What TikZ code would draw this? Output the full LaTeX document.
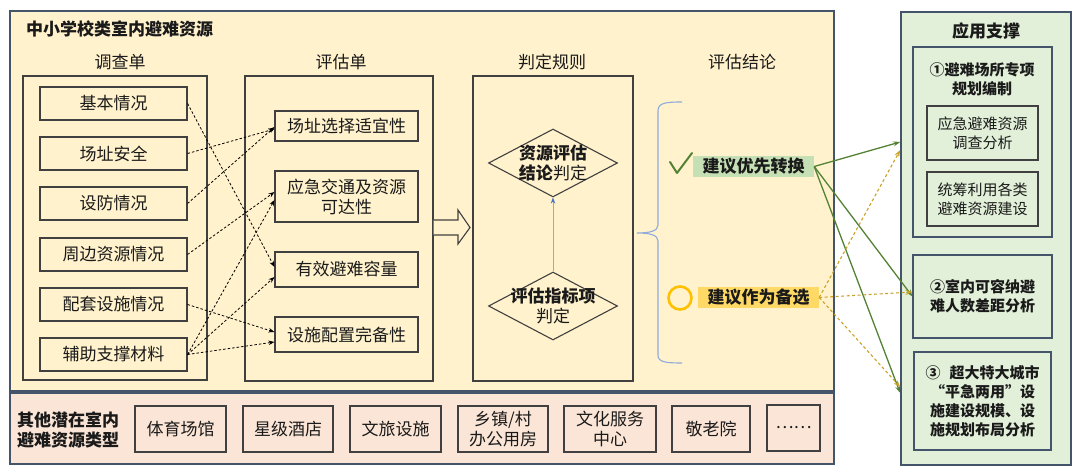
\documentclass[tikz,border=0pt]{standalone}
\usepackage{fontspec}
\setmainfont{Noto Sans CJK SC}
\usetikzlibrary{arrows.meta,shapes.geometric,calc}
\definecolor{ybg}{HTML}{FFF2CC}
\definecolor{pbg}{HTML}{FBE5D6}
\definecolor{gbg}{HTML}{E2F0D9}
\definecolor{frame}{HTML}{44546A}
\definecolor{bdr}{HTML}{404040}
\definecolor{txt}{HTML}{1A1A1A}
\definecolor{gline}{HTML}{548235}
\definecolor{oline}{HTML}{C9A227}
\definecolor{glab}{HTML}{C5E0B4}
\definecolor{olab}{HTML}{FFD966}
\definecolor{ocirc}{HTML}{FFC000}
\definecolor{bline}{HTML}{8FAADC}
\definecolor{btip}{HTML}{4472C4}
\newcommand\fA{\fontsize{17}{20}\selectfont}
\newcommand\fB{\fontsize{15}{19}\selectfont}
\tikzset{
  every node/.style={inner sep=0pt, text=txt},
  panel/.style={draw=frame, line width=1.6pt},
  bx/.style={draw=bdr, line width=1.1pt, font=\fA, align=center},
  rbx/.style={draw=frame, line width=1.1pt, font=\fB, align=center},
  hdr/.style={font=\fA},
  dia/.style={diamond, draw=bdr, line width=1.1pt, minimum width=129pt, minimum height=68pt},
  dsh/.style={draw=black, line width=0.8pt, dash pattern=on 2.5pt off 2pt, -{Stealth[length=6pt,width=4.5pt]}},
  garr/.style={draw=gline, line width=1.3pt, -{Stealth[length=7pt,width=5pt]}},
  oarr/.style={draw=oline, line width=1.1pt, dash pattern=on 3pt off 2.5pt, -{Stealth[length=7pt,width=5pt]}},
}
\begin{document}
\begin{tikzpicture}[x=1pt,y=-1pt]
\useasboundingbox (0,0) rectangle (1080,470);
% panels
\node[panel, fill=ybg, minimum width=824pt, minimum height=380pt] (main) at (422,201) {};
\node[panel, fill=pbg, minimum width=824pt, minimum height=71pt] (other) at (422,428.5) {};
\node[panel, fill=gbg, minimum width=170pt, minimum height=453pt] (ab) at (986,238.5) {};
\node[font=\fA\bfseries, anchor=west] (title) at (26,29) {中小学校类室内避难资源};
% headers
\node[hdr] (h1) at (120,62) {调查单};
\node[hdr] (h2) at (341,62) {评估单};
\node[hdr] (h3) at (552,62) {判定规则};
\node[hdr] (h4) at (742,62) {评估结论};
% column frames
\node[draw=bdr, line width=1.1pt, minimum width=184pt, minimum height=304pt] (c1) at (115,228) {};
\node[draw=bdr, line width=1.1pt, minimum width=188pt, minimum height=305pt] (c2) at (339,228.5) {};
\node[draw=bdr, line width=1.1pt, minimum width=160pt, minimum height=305pt] (c3) at (553,228.5) {};
% survey items
\node[bx, minimum width=147pt, minimum height=33pt] (k1) at (113.5,103.5) {基本情况};
\node[bx, minimum width=147pt, minimum height=33pt] (k2) at (113.5,153.5) {场址安全};
\node[bx, minimum width=147pt, minimum height=33pt] (k3) at (113.5,203.5) {设防情况};
\node[bx, minimum width=147pt, minimum height=33pt] (k4) at (113.5,254.5) {周边资源情况};
\node[bx, minimum width=147pt, minimum height=33pt] (k5) at (113.5,304.5) {配套设施情况};
\node[bx, minimum width=147pt, minimum height=33pt] (k6) at (113.5,354.5) {辅助支撑材料};
% evaluation items
\node[bx, minimum width=143pt, minimum height=30pt] (p1) at (346.5,126) {场址选择适宜性};
\node[bx, minimum width=143pt, minimum height=51pt] (p2) at (346.5,196.5) {应急交通及资源\\可达性};
\node[bx, minimum width=143pt, minimum height=35pt] (p3) at (346.5,269.5) {有效避难容量};
\node[bx, minimum width=143pt, minimum height=35pt] (p4) at (346.5,334.5) {设施配置完备性};
% dashed links
\draw[dsh] (k1.east) -- ([yshift=2.5pt]p3.west);
\draw[dsh] (k2.east) -- ([yshift=-3pt]p1.west);
\draw[dsh] (k3.east) -- ([yshift=-1pt]p1.west);
\draw[dsh] (k4.east) -- ([yshift=4.5pt]p2.west);
\draw[dsh] (k6.east) -- ([yshift=-3.5pt]p2.west);
\draw[dsh] (k6.east) -- ([yshift=-7.5pt]p3.west);
\draw[dsh] (k5.east) -- ([yshift=2.5pt]p4.west);
\draw[dsh] (k6.east) -- ([yshift=-7.5pt]p4.west);
% hollow arrow
\draw[draw=bdr, line width=1.1pt, fill=ybg, line join=miter]
  (c2.east |- 0,220) -- (458,220) -- (458,210) -- (470,227.5) -- (458,244) -- (458,235) -- (c2.east |- 0,235);
% diamonds
\node[dia] (d1) at (553,163) {};
\node[font=\fA, align=center] (d1t) at (d1) {\textbf{资源评估}\\\textbf{结论}判定};
\node[dia] (d2) at (553,306) {};
\node[font=\fA, align=center] (d2t) at (d2) {\textbf{评估指标项}\\判定};
\draw[draw=bline, line width=0.8pt, -{Stealth[length=6pt,width=4.5pt,color=btip]}] (d2.north) -- (d1.south);
% brace
\draw[draw=bline, line width=1.1pt]
  (682,102) .. controls (665,102) and (658,103) .. (658,111) -- (658,225)
  .. controls (658,231) and (650,233) .. (637,233)
  .. controls (650,233) and (658,235) .. (658,241) -- (658,355)
  .. controls (658,362) and (665,363) .. (682,363);
% conclusions
\draw[draw=gline, line width=2pt, line cap=round, line join=round] (670,162) -- (677,173) -- (692,153);
\node[fill=glab, font=\fA\bfseries, minimum width=121pt, minimum height=21pt] (g) at (753.5,166.5) {建议优先转换};
\draw[draw=ocirc, line width=2.6pt] (680,298) circle (11.5pt);
\node[fill=olab, font=\fA\bfseries, minimum width=121pt, minimum height=21pt] (o) at (758.5,297.5) {建议作为备选};
% application box
\node[font=\fA\bfseries] (abt) at (986,31) {应用支撑};
\node[rbx, minimum width=139pt, minimum height=190pt] (r1) at (982.5,142) {};
\node[font=\fB\bfseries, align=center] (r1t) at (982,79) {①避难场所专项\\规划编制};
\node[draw=bdr, line width=1.1pt, font=\fB, align=center, minimum width=111pt, minimum height=54pt] (ra) at (982.5,133) {应急避难资源\\调查分析};
\node[draw=bdr, line width=1.1pt, font=\fB, align=center, minimum width=111pt, minimum height=54pt] (rb) at (982.5,199) {统筹利用各类\\避难资源建设};
\node[rbx, font=\fB\bfseries, minimum width=139pt, minimum height=83pt] (r2) at (982.5,296.5) {②室内可容纳避\\难人数差距分析};
\node[rbx, font=\fB\bfseries, minimum width=137pt, minimum height=98pt] (r3) at (982.5,401) {③\hspace{0.6em}超大特大城市\\“平急两用”设\\施建设规模、设\\施规划布局分析};
% conclusion arrows
\draw[garr] (g.east) -- (ab.west |- r1.west);
\draw[garr] (g.east) -- (r2.west);
\draw[garr] (g.east) -- ([yshift=-154.5pt]ab.west);
\draw[oarr] (o.east) -- ([yshift=-8pt]ab.west |- r1.west);
\draw[oarr] (o.east) -- ([yshift=4.5pt]r2.west);
\draw[oarr] (o.east) -- ([yshift=-148.5pt]ab.west);
% other resources
\node[font=\fA\bfseries, align=center] (ot) at (68,430) {其他潜在室内\\避难资源类型};
\node[bx, minimum width=91pt, minimum height=46pt] (b1) at (180.5,429) {体育场馆};
\node[bx, minimum width=90pt, minimum height=46pt] (b2) at (288,429) {星级酒店};
\node[bx, minimum width=91pt, minimum height=46pt] (b3) at (395.5,429) {文旅设施};
\node[bx, minimum width=90pt, minimum height=46pt] (b4) at (503,429) {乡镇/村\\办公用房};
\node[bx, minimum width=92pt, minimum height=46pt] (b5) at (610,429) {文化服务\\中心};
\node[bx, minimum width=78pt, minimum height=46pt] (b6) at (711,429) {敬老院};
\node[bx, minimum width=53pt, minimum height=46pt] (b7) at (793.5,428) {……};
\end{tikzpicture}
\end{document}
